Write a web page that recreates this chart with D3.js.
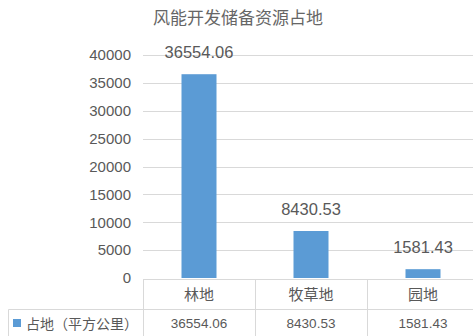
<!DOCTYPE html>
<html><head><meta charset="utf-8">
<script src="https://cdn.jsdelivr.net/npm/d3@7"></script>
<style>
html,body{margin:0;padding:0;background:#fff;}
svg{display:block;}
text{font-family:"Liberation Sans","Noto Sans CJK SC",sans-serif;fill:#595959;}
</style></head>
<body>
<svg id="chart" width="473" height="336"></svg>
<script>
const title = "风能开发储备资源占地";
const categories = ["林地", "牧草地", "园地"];
const values = [36554.06, 8430.53, 1581.43];
const valueLabels = ["36554.06", "8430.53", "1581.43"];
const seriesName = "占地（平方公里）";
const yTicks = [0, 5000, 10000, 15000, 20000, 25000, 30000, 35000, 40000];

(function () {
const svg = d3.select("#chart");
const W = 473, H = 336;
const pLeft = 143, pRight = 479, pTop = 55, pBottom = 278;
const tableTop = 279, rowMid = 309.5;
const grid = "#d9d9d9", barColor = "#5b9bd5";

const x = d3.scaleBand().domain(categories).range([pLeft, pRight]).paddingInner(0).paddingOuter(0);
const y = d3.scaleLinear().domain([0, 40000]).range([pBottom, pTop]);

// title
svg.append("text").attr("x", 238).attr("y", 24).attr("text-anchor", "middle")
  .style("font-size", "17px").style("fill", "#666").style("font-family", "'Noto Sans CJK SC',sans-serif").text(title);

// gridlines
svg.append("g").selectAll("line").data(yTicks.filter(d => d > 0)).join("line")
  .attr("x1", pLeft).attr("x2", W).attr("y1", d => Math.round(y(d)) + 0.5).attr("y2", d => Math.round(y(d)) + 0.5)
  .attr("stroke", grid).attr("stroke-width", 1);

// y axis labels
const yAxis = d3.axisLeft(y).tickValues(yTicks).tickSize(0).tickPadding(12).tickFormat(d3.format("d"));
const ga = svg.append("g").attr("transform", `translate(${pLeft},0)`).call(yAxis);
ga.select(".domain").remove();
ga.selectAll("text").style("font-size", "15px").style("fill", "#595959")
  .style("font-family", "'Liberation Sans',sans-serif");

// bars
const bw = 35;
svg.append("g").selectAll("rect").data(values).join("rect")
  .attr("x", (d, i) => x(categories[i]) + x.bandwidth() / 2 - bw / 2)
  .attr("width", bw)
  .attr("y", d => y(d))
  .attr("height", d => y(0) - y(d))
  .attr("fill", barColor);

// data labels
svg.append("g").selectAll("text").data(values).join("text")
  .attr("x", (d, i) => x(categories[i]) + x.bandwidth() / 2)
  .attr("y", d => y(d) - 16)
  .attr("text-anchor", "middle")
  .style("font-size", "16.5px")
  .text((d, i) => valueLabels[i]);

// data table lines
const tl = svg.append("g").attr("stroke", grid).attr("stroke-width", 1);
tl.append("line").attr("x1", pLeft).attr("x2", W).attr("y1", tableTop + 0.5).attr("y2", tableTop + 0.5);
tl.append("line").attr("x1", 8.5).attr("x2", W).attr("y1", rowMid).attr("y2", rowMid);
tl.append("line").attr("x1", 8.5).attr("x2", 8.5).attr("y1", rowMid).attr("y2", H);
categories.forEach(c => {
  tl.append("line").attr("x1", Math.round(x(c)) + 0.5).attr("x2", Math.round(x(c)) + 0.5)
    .attr("y1", tableTop).attr("y2", H);
});

// category header row
svg.append("g").selectAll("text").data(categories).join("text")
  .attr("x", d => x(d) + x.bandwidth() / 2)
  .attr("y", 300)
  .attr("text-anchor", "middle")
  .style("font-size", "15px")
  .style("font-family", "'Noto Sans CJK SC',sans-serif")
  .text(d => d);

// values row
svg.append("g").selectAll("text").data(values).join("text")
  .attr("x", (d, i) => x(categories[i]) + x.bandwidth() / 2)
  .attr("y", 328)
  .attr("text-anchor", "middle")
  .style("font-size", "13.5px")
  .text((d, i) => valueLabels[i]);

// legend key in table
svg.append("rect").attr("x", 13).attr("y", 319).attr("width", 8).attr("height", 8).attr("fill", barColor);
svg.append("text").attr("x", 26).attr("y", 328.5)
  .style("font-size", "14px").style("font-family", "'Noto Sans CJK SC',sans-serif")
  .text(seriesName);
})();
</script>
</body></html>
